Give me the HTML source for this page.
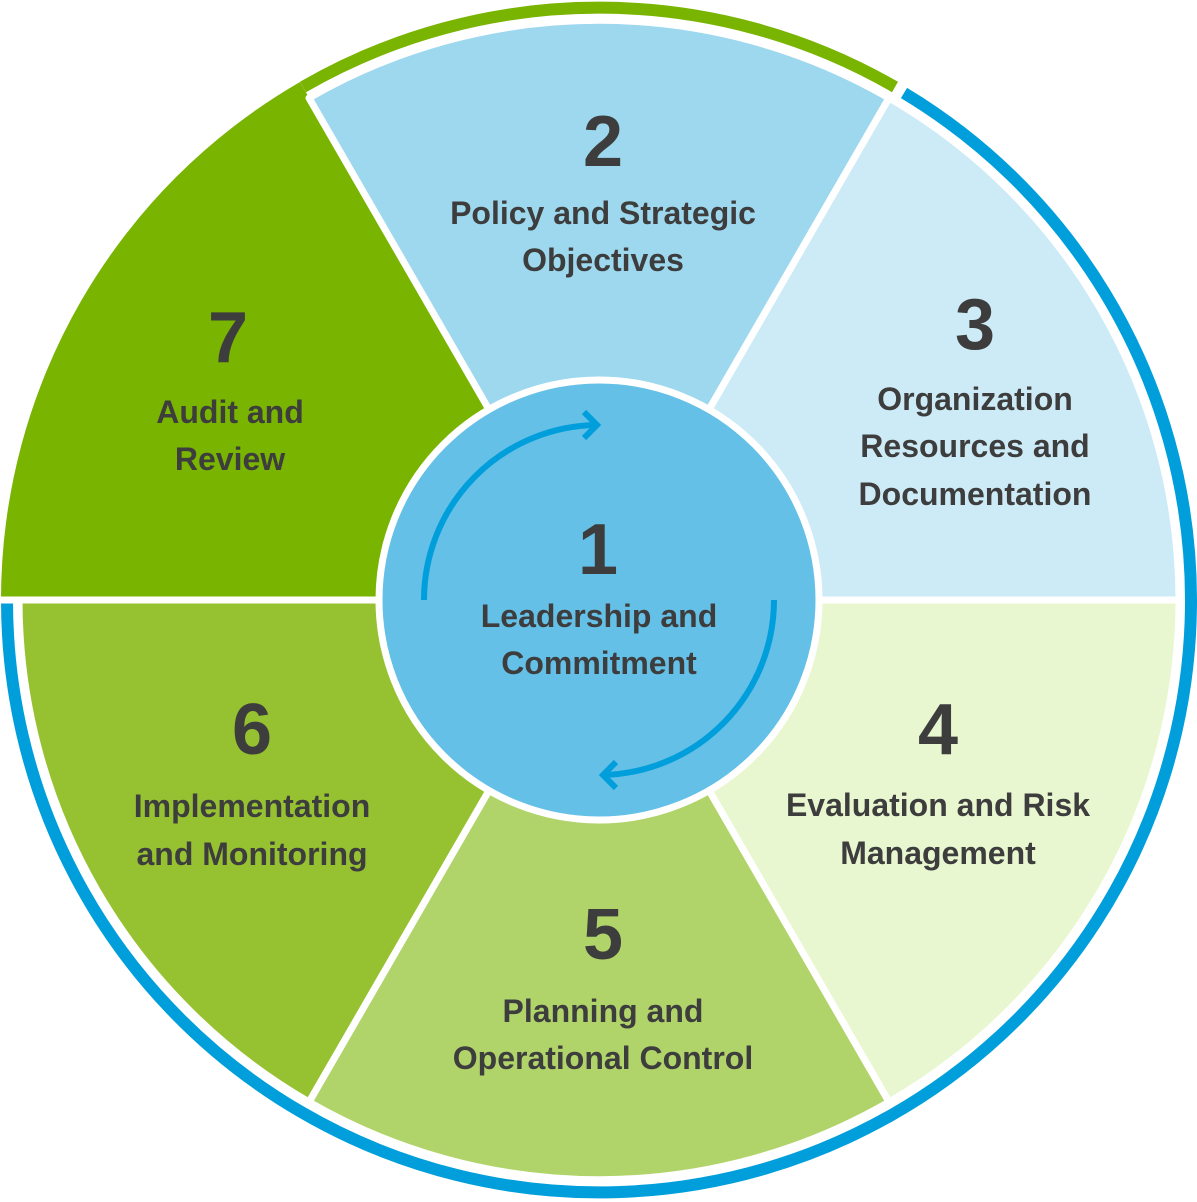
<!DOCTYPE html>
<html><head><meta charset="utf-8"><style>
html,body{margin:0;padding:0;background:#fff;}
svg{display:block;}
text{font-family:"Liberation Sans",sans-serif;font-weight:bold;fill:#3d3d3d;text-anchor:middle;}
.n{font-size:72px;}
.t{font-size:32px;}
</style></head><body>
<svg width="1197" height="1202" viewBox="0 0 1197 1202">
<path d="M599,600 L1,600 A598,598 0 0 1 300,82 Z" fill="#78b400"/>
<path d="M303,87 A592,592 0 0 1 895,87" fill="none" stroke="#78b400" stroke-width="12"/>
<path d="M904,93 A592,592 0 1 1 7,600" fill="none" stroke="#009fdb" stroke-width="12"/>
<g stroke="#fff" stroke-width="7" stroke-linejoin="round">
<path d="M599,600 L309,98 A580,580 0 0 1 889,98 Z" fill="#9dd8ef"/>
<path d="M599,600 L889,98 A580,580 0 0 1 1179,600 Z" fill="#cdebf7"/>
<path d="M599,600 L1179,600 A580,580 0 0 1 889,1102 Z" fill="#e8f7d0"/>
<path d="M599,600 L889,1102 A580,580 0 0 1 309,1102 Z" fill="#b0d46a"/>
<path d="M599,600 L309,1102 A580,580 0 0 1 19,600 Z" fill="#96c131"/>
<line x1="599" y1="600" x2="0" y2="600"/>
<circle cx="599" cy="600" r="220" fill="#64c0e6"/>
</g>
<g fill="none" stroke="#009fdb" stroke-width="6">
<path d="M424,600 A175,175 0 0 1 597,425"/>
<polyline points="584,412 597,425 584,438"/>
<path d="M774,600 A175,175 0 0 1 603,775"/>
<polyline points="616,762 603,775 616,788"/>
</g>
<text class="n" x="603" y="166">2</text>
<text class="t" x="603" y="224">Policy and Strategic</text>
<text class="t" x="603" y="271">Objectives</text>
<text class="n" x="975" y="349">3</text>
<text class="t" x="975" y="410">Organization</text>
<text class="t" x="975" y="457">Resources and</text>
<text class="t" x="975" y="505">Documentation</text>
<text class="n" x="938" y="754">4</text>
<text class="t" x="938" y="816">Evaluation and Risk</text>
<text class="t" x="938" y="864">Management</text>
<text class="n" x="603" y="959">5</text>
<text class="t" x="603" y="1022">Planning and</text>
<text class="t" x="603" y="1069">Operational Control</text>
<text class="n" x="252" y="754">6</text>
<text class="t" x="252" y="817">Implementation</text>
<text class="t" x="252" y="865">and Monitoring</text>
<text class="n" x="228" y="362">7</text>
<text class="t" x="230" y="423">Audit and</text>
<text class="t" x="230" y="470">Review</text>
<text class="n" x="598" y="574">1</text>
<text class="t" x="599" y="627">Leadership and</text>
<text class="t" x="599" y="674">Commitment</text>
</svg>
</body></html>
